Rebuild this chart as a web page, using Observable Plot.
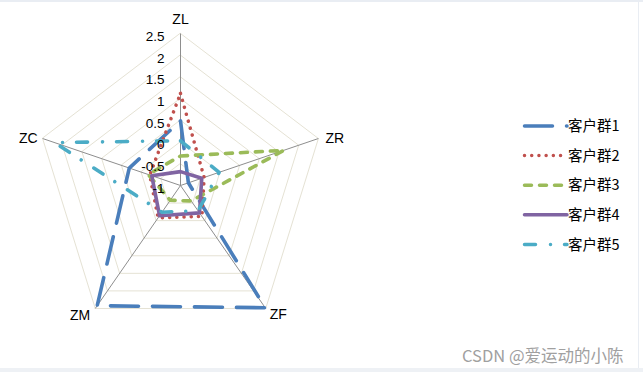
<!DOCTYPE html>
<html>
<head>
<meta charset="utf-8">
<script src="https://cdn.jsdelivr.net/npm/d3@7"></script>
<script src="https://cdn.jsdelivr.net/npm/@observablehq/plot@0.6"></script>
<style>
  html, body { margin: 0; padding: 0; background: #fff; }
  #wrap { position: relative; width: 643px; height: 372px; overflow: hidden; background: #fff; }
  #wrap svg { position: absolute; left: 0; top: 0; }
  .frame-top { position: absolute; left: 0; top: 0; width: 643px; height: 2px; background: #e9edf3; }
  .frame-right { position: absolute; left: 638px; top: 0; width: 1px; height: 368px; background: #e9edf3; }
  .frame-bottom { position: absolute; left: 0; top: 368px; width: 643px; height: 4px; background: #eef1f5; }
  .watermark { position: absolute; left: 462px; top: 343px; font: 16.5px "Noto Sans CJK SC", "Liberation Sans", sans-serif; color: #a0a0a0; white-space: nowrap; }
</style>
</head>
<body>
<div id="wrap"></div>
<script>
// ---------- data ----------
const axes = ["ZL", "ZR", "ZF", "ZM", "ZC"];
const seriesNames = ["客户群1", "客户群2", "客户群3", "客户群4", "客户群5"];
const group1 = [0.49, -0.80, 2.48, 2.42, 0.30];
const group2 = [1.12, -0.40, -0.12, -0.08, -0.22];
const group3 = [-0.32, 1.62, -0.56, -0.58, -0.18];
const group4 = [-0.68, -0.46, -0.22, -0.14, -0.27];
const group5 = [0.03, -0.02, -0.28, -0.24, 2.20];
const tickValues = [-1, -0.5, 0, 0.5, 1, 1.5, 2, 2.5];

// ---------- styling / layout ----------
const colors = ["#4a7ebb", "#c0504d", "#9bbb59", "#8064a2", "#4bacc6"];
const dashes = ["28,14", "0.01,7.2", "7,8", null, "11,15,0.01,14"];
const W = 643, H = 372, cx = 180, cy = 185;
const rMin = tickValues[0], rMax = tickValues[tickValues.length - 1];
const ux = 145 / (rMax - rMin), uy = 152 / (rMax - rMin);

function polar(i, v) {
  const a = i * 2 * Math.PI / axes.length;
  const r = v - rMin;
  return [r * Math.sin(a), r * Math.cos(a)];
}

const seriesValues = [group1, group2, group3, group4, group5];
const lineData = seriesValues.flatMap((vals, si) =>
  vals.map((v, i) => { const [x, y] = polar(i, v); return {series: seriesNames[si], axis: axes[i], value: v, x, y}; }));
const gridData = tickValues.filter(t => t > rMin).flatMap(t =>
  axes.map((a, i) => { const [x, y] = polar(i, t); return {level: t, x, y}; }));
const spokeData = axes.map((a, i) => {
  const [x1, y1] = polar(i, rMin); const [x2, y2] = polar(i, rMax);
  return {axis: a, x1, y1, x2, y2};
});
const axisLabelData = axes.map((a, i) => { const [x, y] = polar(i, rMax); return {axis: a, x, y}; });
const labelStyle = {
  ZL: {textAnchor: "middle", dx: 0, dy: -14},
  ZR: {textAnchor: "start", dx: 7, dy: 0},
  ZF: {textAnchor: "start", dx: 4, dy: 6},
  ZM: {textAnchor: "end", dx: -5, dy: 7},
  ZC: {textAnchor: "end", dx: -5, dy: 0}
};

const font = '"Liberation Sans", Arial, sans-serif';

const marks = [
  Plot.line(gridData, {x: "x", y: "y", z: "level", curve: "linear-closed", stroke: "#e5e2d4", strokeWidth: 1}),
  Plot.link(spokeData, {x1: "x1", y1: "y1", x2: "x2", y2: "y2", stroke: "#8e8e8e", strokeWidth: 1})
];
seriesNames.forEach((name, si) => {
  marks.push(Plot.line(lineData.filter(d => d.series === name), {
    x: "x", y: "y", curve: "linear-closed",
    stroke: colors[si], strokeWidth: 3.6,
    strokeDasharray: dashes[si] || undefined,
    strokeLinecap: "round", strokeLinejoin: "round"
  }));
});
marks.push(Plot.text(tickValues, {
  x: d => 0, y: d => d - rMin, text: d => String(d),
  textAnchor: "end", dx: -16, dy: 3, fontSize: 13.5, fill: "#000"
}));
axisLabelData.forEach(d => {
  const s = labelStyle[d.axis];
  marks.push(Plot.text([d], {x: "x", y: "y", text: "axis", fontSize: 14, fill: "#000", ...s}));
});

const chart = Plot.plot({
  width: W, height: H, margin: 0,
  x: {domain: [-cx / ux, (W - cx) / ux], range: [0, W], axis: null},
  y: {domain: [-(H - cy) / uy, cy / uy], range: [H, 0], axis: null},
  style: {fontFamily: font, background: "transparent", overflow: "visible"},
  marks
});

const wrap = document.getElementById("wrap");
wrap.appendChild(chart);

// ---------- legend ----------
const legendY0 = 126, legendStep = 29.6, lx0 = 524.5, lx1 = 567, tx = 568;
const leg = d3.select(wrap).append("svg")
  .attr("width", W).attr("height", H)
  .style("pointer-events", "none");
seriesNames.forEach((name, i) => {
  const y = legendY0 + i * legendStep;
  leg.append("line")
    .attr("x1", lx0).attr("x2", lx1).attr("y1", y).attr("y2", y)
    .attr("stroke", colors[i]).attr("stroke-width", 3.5)
    .attr("stroke-linecap", "round")
    .attr("stroke-dasharray", dashes[i]);
  leg.append("text")
    .attr("x", tx).attr("y", y).attr("dy", "0.36em")
    .attr("font-family", '"Noto Sans CJK SC", sans-serif')
    .attr("font-size", 14.5).attr("fill", "#000")
    .text(name);
});

// frame + watermark
["frame-top", "frame-right", "frame-bottom"].forEach(c => {
  const d = document.createElement("div"); d.className = c; wrap.appendChild(d);
});
const wm = document.createElement("div");
wm.className = "watermark";
wm.textContent = "CSDN @爱运动的小陈";
wrap.appendChild(wm);
</script>
</body>
</html>
